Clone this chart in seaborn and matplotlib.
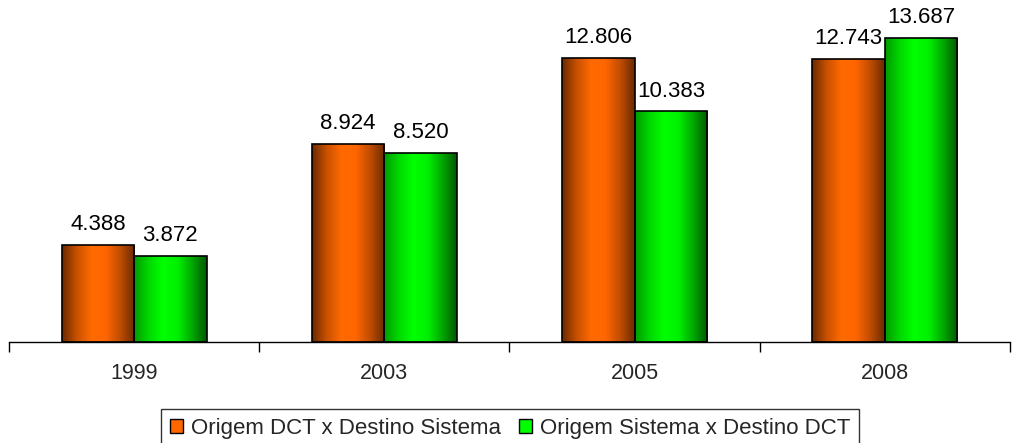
import numpy as np
import pandas as pd
import matplotlib
matplotlib.use("Agg")
import matplotlib.pyplot as plt
import seaborn as sns
from matplotlib.colors import LinearSegmentedColormap
from matplotlib.patches import Patch

# --- dados ---
anos = ["1999", "2003", "2005", "2008"]
serie_a = "Origem DCT x Destino Sistema"
serie_b = "Origem Sistema x Destino DCT"
valores_a = [4388, 8924, 12806, 12743]
valores_b = [3872, 8520, 10383, 13687]

df = pd.DataFrame({
    "Ano": anos * 2,
    "Serie": [serie_a] * 4 + [serie_b] * 4,
    "Valor": valores_a + valores_b,
})

sns.set_theme(style="white")
plt.rcParams['font.family'] = ['Liberation Sans', 'DejaVu Sans']

cores = {serie_a: "#ff6600", serie_b: "#00ff00"}
gradientes = {
    serie_a: LinearSegmentedColormap.from_list("lar", ["#6a2a00", "#c85000", "#ff6a00", "#ff6600", "#c04c00", "#6a2a00"]),
    serie_b: LinearSegmentedColormap.from_list("verde", ["#009a00", "#00d800", "#00ff00", "#00f000", "#00a800", "#005800"]),
}

fig = plt.figure(figsize=(10.2, 4.43), dpi=100)
ax = fig.add_axes([9 / 1020, 101 / 443, 1001 / 1020, 342 / 443])

sns.barplot(data=df, x="Ano", y="Valor", hue="Serie", palette=cores,
            width=0.58, gap=0, edgecolor="black", linewidth=1.2,
            legend=False, ax=ax)

# gradiente horizontal em cada barra
grad = np.linspace(0, 1, 256).reshape(1, -1)
for cont, serie in zip(ax.containers, [serie_a, serie_b]):
    for barra in cont:
        x0, y0 = barra.get_x(), barra.get_y()
        w, h = barra.get_width(), barra.get_height()
        im = ax.imshow(grad, cmap=gradientes[serie], aspect="auto",
                       extent=[x0, x0 + w, y0, y0 + h], zorder=barra.get_zorder() + 0.1,
                       interpolation="bicubic")
        im.set_clip_path(barra)
        barra.set_facecolor("none")
        barra.set_zorder(barra.get_zorder() + 0.2)
    ax.bar_label(cont, labels=[f"{int(v):,}".replace(",", ".") for v in cont.datavalues],
                 padding=7, fontsize=16, color="black")
ax.set_xlim(-0.5, 3.5)
ax.set_ylim(0, 15400)

# eixo
for lado in ["top", "right", "left"]:
    ax.spines[lado].set_visible(False)
ax.spines["bottom"].set_color("black")
ax.spines["bottom"].set_linewidth(1.0)
ax.set_yticks([])
ax.set_xlabel("")
ax.set_ylabel("")
ax.set_xticks(range(4))
ax.set_xticklabels(anos, fontsize=15.5)
ax.set_xticks([-0.5, 0.5, 1.5, 2.5, 3.5], minor=True)
ax.tick_params(axis="x", which="major", length=0, pad=15)
ax.tick_params(axis="x", which="minor", length=7, width=1.0, color="black", direction="out", bottom=True)

handles = [Patch(facecolor=cores[serie_a], edgecolor="black", label=serie_a),
           Patch(facecolor=cores[serie_b], edgecolor="black", label=serie_b)]
leg = fig.legend(handles=handles, loc="lower center", bbox_to_anchor=(0.5, -0.035), ncol=2,
                 fontsize=16, frameon=True, fancybox=False, edgecolor="black",
                 handlelength=0.6, handleheight=0.6, handletextpad=0.35, columnspacing=0.8,
                 borderpad=0.4, borderaxespad=0.5)
leg.get_frame().set_linewidth(1.0)

fig.savefig("out.png", dpi=100)
